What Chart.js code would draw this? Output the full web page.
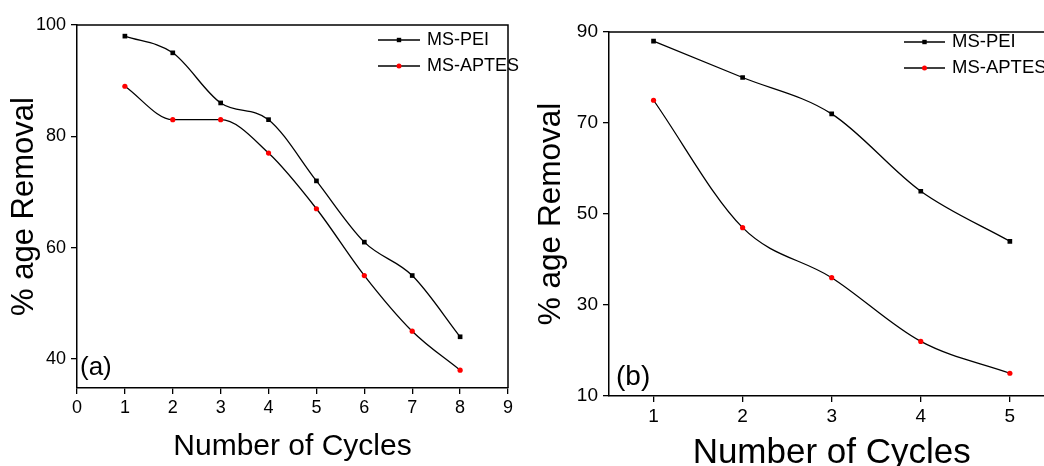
<!DOCTYPE html>
<html>
<head>
<meta charset="utf-8">
<script src="https://cdn.jsdelivr.net/npm/chart.js@4/dist/chart.umd.min.js"></script>
<style>
  html, body { margin: 0; padding: 0; background: #fff; overflow: hidden; }
  #wrapA { position: absolute; left: 0; top: 0; width: 530px; height: 466px; }
  #wrapB { position: absolute; left: 530px; top: 0; width: 514px; height: 466px; overflow: hidden; }
</style>
</head>
<body>
<div id="wrapA"><canvas id="chartA" width="530" height="466"></canvas></div>
<div id="wrapB"><canvas id="chartB" width="540" height="490"></canvas></div>
<script>
const FONT = "'Liberation Sans', Arial, sans-serif";

// panel (a)
const cyclesA = [1, 2, 3, 4, 5, 6, 7, 8];
const peiA = [98, 95, 86, 83, 72, 61, 55, 44];
const aptesA = [89, 83, 83, 77, 67, 55, 45, 38];
const xTicksA = [0, 1, 2, 3, 4, 5, 6, 7, 8, 9];
const yTicksA = [40, 60, 80, 100];

// panel (b)
const cyclesB = [1, 2, 3, 4, 5];
const peiB = [88, 80, 72, 55, 44];
const aptesB = [75, 47, 36, 22, 15];
const xTicksB = [1, 2, 3, 4, 5];
const yTicksB = [10, 30, 50, 70, 90];

const seriesNames = ['MS-PEI', 'MS-APTES'];
const xTitle = 'Number of Cycles';
const yTitle = '% age Removal';

function toPoints(xs, ys) {
  return xs.map((x, i) => ({ x: x, y: ys[i] }));
}

function makeDatasets(xs, pei, aptes) {
  return [
    {
      label: seriesNames[0],
      data: toPoints(xs, pei),
      borderColor: '#000',
      borderWidth: 1.3,
      cubicInterpolationMode: 'monotone',
      pointStyle: 'rect',
      pointRadius: 3.3,
      pointBackgroundColor: '#000',
      pointBorderWidth: 0
    },
    {
      label: seriesNames[1],
      data: toPoints(xs, aptes),
      borderColor: '#000',
      borderWidth: 1.3,
      cubicInterpolationMode: 'monotone',
      pointStyle: 'circle',
      pointRadius: 2.6,
      pointBackgroundColor: '#ff0000',
      pointBorderWidth: 0
    }
  ];
}

function axis(o) {
  return {
    type: 'linear',
    min: o.min,
    max: o.max,
    afterBuildTicks: s => { s.ticks = o.ticks.map(v => ({ value: v })); },
    afterFit: s => {
      if (s.isHorizontal()) s.height = o.size; else s.width = o.size;
    },
    grid: { drawOnChartArea: false, drawTicks: true, tickLength: 6, color: '#000', lineWidth: 1.3 },
    border: { display: true, color: '#000', width: 1.5 },
    ticks: {
      color: '#000',
      font: { family: FONT, size: o.tickSize },
      padding: o.tickPad,
      maxRotation: 0,
      autoSkip: false
    },
    title: {
      display: true,
      text: o.title,
      color: '#000',
      font: { family: FONT, size: o.titleSize, lineHeight: 1.2 },
      padding: o.titlePad
    }
  };
}

// frame on top/right, legend with line + marker, and panel letter
const panelDecor = {
  id: 'panelDecor',
  afterDraw(chart, args, o) {
    const ctx = chart.ctx;
    const a = chart.chartArea;
    ctx.save();
    ctx.strokeStyle = '#000';
    ctx.lineWidth = 1.5;
    ctx.beginPath();
    ctx.moveTo(a.left, a.top);
    ctx.lineTo(a.right, a.top);
    ctx.lineTo(a.right, a.bottom);
    ctx.stroke();

    chart.data.datasets.forEach((ds, i) => {
      const y = o.y + i * o.gap;
      ctx.strokeStyle = '#000';
      ctx.lineWidth = 1.3;
      ctx.beginPath();
      ctx.moveTo(o.x, y);
      ctx.lineTo(o.x + o.len, y);
      ctx.stroke();
      const mx = o.x + o.len / 2;
      ctx.fillStyle = ds.pointBackgroundColor;
      if (ds.pointStyle === 'rect') {
        ctx.fillRect(mx - 2.2, y - 2.2, 4.4, 4.4);
      } else {
        ctx.beginPath();
        ctx.arc(mx, y, 2.5, 0, Math.PI * 2);
        ctx.fill();
      }
      ctx.fillStyle = '#000';
      ctx.font = o.fontSize + 'px ' + FONT;
      ctx.textBaseline = 'middle';
      ctx.textAlign = 'left';
      ctx.fillText(ds.label, o.x + o.len + o.textGap, y);
    });

    ctx.font = o.tagSize + 'px ' + FONT;
    ctx.textBaseline = 'alphabetic';
    ctx.fillText(o.tag, o.tagX, o.tagY);
    ctx.restore();
  }
};

function baseOptions(pad) {
  return {
    responsive: false,
    animation: false,
    layout: { padding: pad },
    plugins: { legend: { display: false }, tooltip: { enabled: false } }
  };
}

const optsA = baseOptions({ top: 25, right: 22, left: 0, bottom: 0 });
optsA.scales = {
  x: axis({ min: 0, max: 9, ticks: xTicksA, size: 78, tickSize: 18, tickPad: 3,
            title: xTitle, titleSize: 30, titlePad: { top: 0, bottom: 1.4 } }),
  y: axis({ min: 34.8, max: 100, ticks: yTicksA, size: 77, tickSize: 18, tickPad: 5,
            title: yTitle, titleSize: 31, titlePad: { top: 6, bottom: 0 } })
};
optsA.plugins.panelDecor = { x: 378, y: 40, gap: 26, len: 42, textGap: 7, fontSize: 18,
                             tag: '(a)', tagX: 80, tagY: 375, tagSize: 26 };

new Chart(document.getElementById('chartA'), {
  type: 'line',
  data: { datasets: makeDatasets(cyclesA, peiA, aptesA) },
  options: optsA,
  plugins: [panelDecor]
});

const optsB = baseOptions({ top: 32, right: 15.6, left: 0, bottom: 0 });
optsB.scales = {
  x: axis({ min: 0.5, max: 5.5, ticks: xTicksB, size: 94, tickSize: 19, tickPad: 3,
            title: xTitle, titleSize: 35, titlePad: { top: 0, bottom: 16 } }),
  y: axis({ min: 10, max: 90, ticks: yTicksB, size: 79, tickSize: 19, tickPad: 5,
            title: yTitle, titleSize: 31.5, titlePad: { top: 2, bottom: 0 } })
};
optsB.plugins.panelDecor = { x: 374, y: 42, gap: 26, len: 41, textGap: 7, fontSize: 18.5,
                             tag: '(b)', tagX: 86, tagY: 385, tagSize: 28 };

new Chart(document.getElementById('chartB'), {
  type: 'line',
  data: { datasets: makeDatasets(cyclesB, peiB, aptesB) },
  options: optsB,
  plugins: [panelDecor]
});
</script>
</body>
</html>
